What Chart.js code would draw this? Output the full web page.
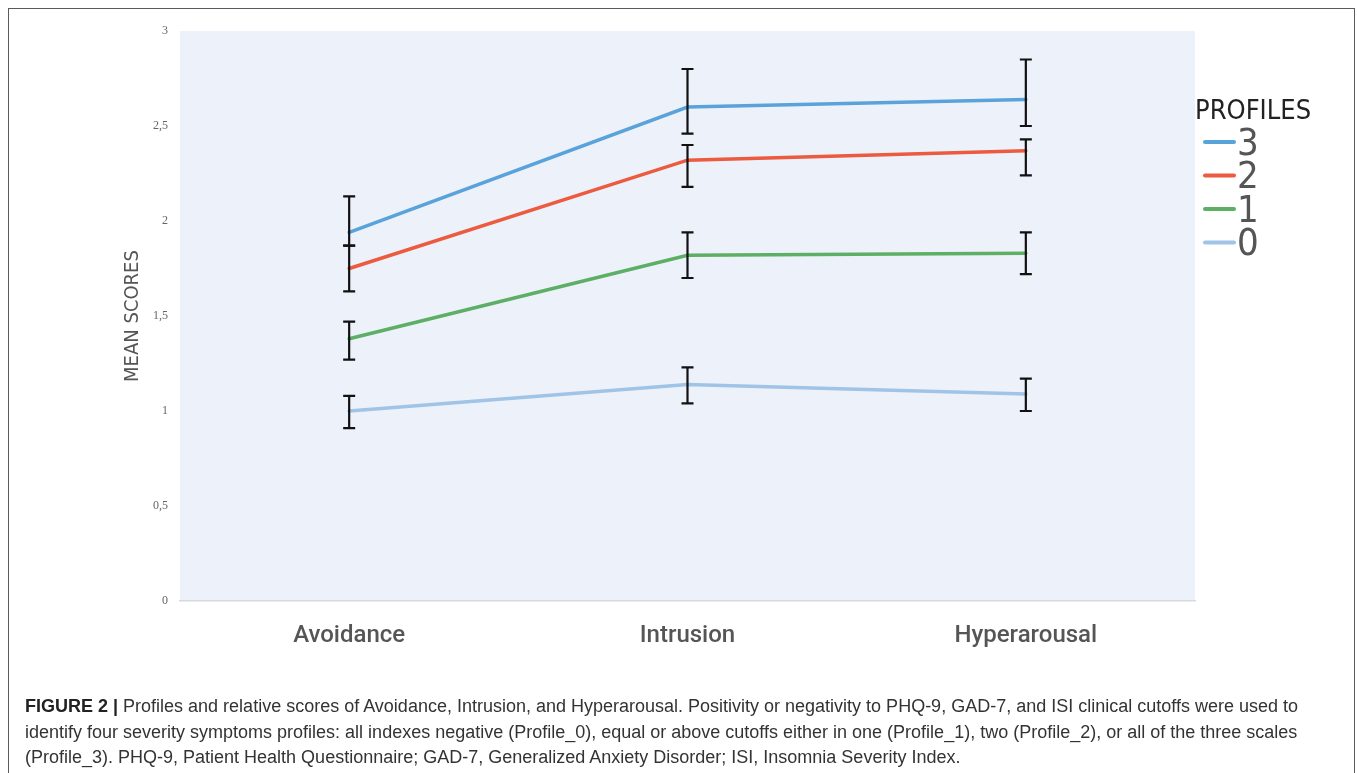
<!DOCTYPE html>
<html>
<head>
<meta charset="utf-8">
<script src="https://cdn.jsdelivr.net/npm/chart.js@4"></script>
<style>
  html, body { margin: 0; padding: 0; background: #fff; }
  body { width: 1357px; height: 773px; position: relative; overflow: hidden; }
  #frame {
    position: absolute; left: 8px; top: 8px; width: 1345px; height: 800px;
    border: 1.5px solid #5a5a5a; border-bottom: none; pointer-events: none;
  }
  #wrap { position: absolute; left: 0; top: 0; width: 1357px; height: 680px; }
  #caption {
    position: absolute; left: 25px; top: 694px; width: 1320px;
    font-family: "Liberation Sans", Arial, sans-serif; font-size: 18px;
    line-height: 25.5px; color: #333; white-space: nowrap;
  }
  #caption b { color: #222; }
</style>
</head>
<body>
<div id="wrap"><canvas id="profilesChart"></canvas></div>
<div id="frame"></div>
<div id="caption"><b>FIGURE 2 |</b> Profiles and relative scores of Avoidance, Intrusion, and Hyperarousal. Positivity or negativity to PHQ-9, GAD-7, and ISI clinical cutoffs were used to<br>identify four severity symptoms profiles: all indexes negative (Profile_0), equal or above cutoffs either in one (Profile_1), two (Profile_2), or all of the three scales<br>(Profile_3). PHQ-9, Patient Health Questionnaire; GAD-7, Generalized Anxiety Disorder; ISI, Insomnia Severity Index.</div>
<script>
// Chart data
const categories = ['Avoidance', 'Intrusion', 'Hyperarousal'];
const profileNames = ['3', '2', '1', '0'];

const profile3 = [1.94, 2.60, 2.64];
const profile3Upper = [2.13, 2.80, 2.85];
const profile3Lower = [1.87, 2.46, 2.50];

const profile2 = [1.75, 2.32, 2.37];
const profile2Upper = [1.87, 2.40, 2.43];
const profile2Lower = [1.63, 2.18, 2.24];

const profile1 = [1.38, 1.82, 1.83];
const profile1Upper = [1.47, 1.94, 1.94];
const profile1Lower = [1.27, 1.70, 1.72];

const profile0 = [1.00, 1.14, 1.09];
const profile0Upper = [1.08, 1.23, 1.17];
const profile0Lower = [0.91, 1.04, 1.00];

const yTickLabels = ['0', '0,5', '1', '1,5', '2', '2,5', '3'];

const colors = ['#5aa3da', '#ec5a3f', '#5caf64', '#9fc4e7'];

const narrowFont = '"Liberation Sans Narrow", "DejaVu Sans Condensed", sans-serif';

// Fill the plot area with the pale blue background
const plotBackground = {
    id: 'plotBackground',
    beforeDraw(chart) {
        const { ctx, chartArea: a } = chart;
        ctx.save();
        ctx.fillStyle = '#edf2fa';
        ctx.fillRect(a.left, a.top, a.right - a.left, a.bottom - a.top);
        ctx.restore();
    }
};

// Vertical error bars with caps
const errorBars = {
    id: 'errorBars',
    afterDatasetsDraw(chart) {
        const { ctx, scales: { x, y } } = chart;
        ctx.save();
        ctx.strokeStyle = '#111';
        ctx.lineWidth = 2.2;
        chart.data.datasets.forEach(ds => {
            ds.upper.forEach((hi, i) => {
                const px = x.getPixelForValue(i);
                const top = y.getPixelForValue(hi);
                const bottom = y.getPixelForValue(ds.lower[i]);
                ctx.beginPath();
                ctx.moveTo(px, top);
                ctx.lineTo(px, bottom);
                ctx.moveTo(px - 6, top);
                ctx.lineTo(px + 6, top);
                ctx.moveTo(px - 6, bottom);
                ctx.lineTo(px + 6, bottom);
                ctx.stroke();
            });
        });
        ctx.restore();
    }
};

// Legend drawn on the right, like the original
const profileLegend = {
    id: 'profileLegend',
    afterDraw(chart) {
        const { ctx } = chart;
        ctx.save();
        ctx.fillStyle = '#222';
        ctx.font = '500 27px ' + narrowFont;
        ctx.textBaseline = 'alphabetic';
        ctx.fillText('PROFILES', 1195, 119);
        chart.data.datasets.forEach((ds, i) => {
            const cy = 142 + i * 33.5;
            ctx.strokeStyle = ds.borderColor;
            ctx.lineWidth = 4;
            ctx.lineCap = 'round';
            ctx.beginPath();
            ctx.moveTo(1205, cy);
            ctx.lineTo(1234, cy);
            ctx.stroke();
            ctx.fillStyle = '#555';
            ctx.font = '38px ' + narrowFont;
            ctx.textBaseline = 'middle';
            ctx.fillText(ds.label, 1237, cy + 3);
        });
        ctx.restore();
    }
};

function makeDataset(label, values, upper, lower, color) {
    return {
        label: label,
        data: values,
        upper: upper,
        lower: lower,
        borderColor: color,
        backgroundColor: color,
        borderWidth: 3.5,
        borderCapStyle: 'round',
        pointRadius: 0,
        tension: 0
    };
}

const ctx = document.getElementById('profilesChart');

new Chart(ctx, {
    type: 'line',
    data: {
        labels: categories,
        datasets: [
            makeDataset(profileNames[0], profile3, profile3Upper, profile3Lower, colors[0]),
            makeDataset(profileNames[1], profile2, profile2Upper, profile2Lower, colors[1]),
            makeDataset(profileNames[2], profile1, profile1Upper, profile1Lower, colors[2]),
            makeDataset(profileNames[3], profile0, profile0Upper, profile0Lower, colors[3])
        ]
    },
    options: {
        responsive: true,
        maintainAspectRatio: false,
        animation: false,
        layout: { padding: { left: 10, right: 162, top: 31, bottom: 0 } },
        plugins: {
            legend: { display: false },
            tooltip: { enabled: false }
        },
        scales: {
            x: {
                offset: true,
                grid: { display: false, drawTicks: false },
                border: { display: true, color: '#d6d9de', width: 1.5 },
                ticks: {
                    padding: 21,
                    color: '#555',
                    font: { family: 'Roboto, "DejaVu Sans", sans-serif', size: 24, weight: '500' }
                },
                afterFit(scale) { scale.height = 680 - 601; }
            },
            y: {
                min: 0,
                max: 3,
                grid: { display: false, drawTicks: false },
                border: { display: false },
                ticks: {
                    stepSize: 0.5,
                    padding: 12,
                    color: '#666',
                    font: { family: '"Liberation Serif", "DejaVu Serif", serif', size: 12 },
                    callback: (value, index) => yTickLabels[index]
                },
                title: {
                    display: true,
                    text: 'MEAN SCORES',
                    color: '#555',
                    padding: { top: 111, bottom: 0 },
                    font: { family: narrowFont, size: 20 }
                },
                afterFit(scale) { scale.width = 170; }
            }
        }
    },
    plugins: [plotBackground, errorBars, profileLegend]
});
</script>
</body>
</html>
